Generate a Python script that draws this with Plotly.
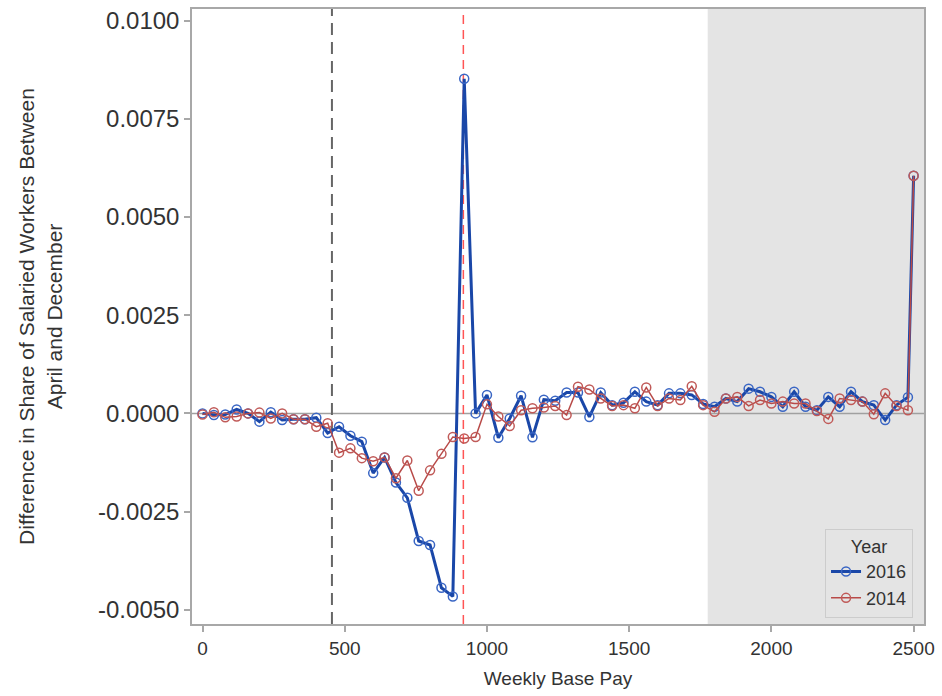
import plotly.graph_objects as go

# Weekly base pay bins ($40 steps) plus the top bin at 2500
pay = [40 * i for i in range(63)] + [2500]

share_2016 = [
    0.0, -0.00004, -0.00003, 0.0001, 0.0, -0.00021, 0.00003, -0.00017,
    -0.00015, -0.00015, -0.00011, -0.0005, -0.00034, -0.00057, -0.00072, -0.00152,
    -0.00112, -0.00176, -0.00215, -0.00325, -0.00335, -0.00444, -0.00466, 0.00852,
    0.0, 0.00047, -0.00062, -0.00013, 0.00045, -0.00061, 0.00035, 0.00032,
    0.00053, 0.00053, -0.00009, 0.00053, 0.00021, 0.00027, 0.00055, 0.0003,
    0.00021, 0.00051, 0.00051, 0.00047, 0.00024, 0.00017, 0.00038, 0.0003,
    0.00063, 0.00055, 0.00042, 0.00017, 0.00055, 0.00017, 0.00008, 0.00042,
    0.00017, 0.00055, 0.0003, 0.00021, -0.00017, 0.00021, 0.00041, 0.00605,
]

share_2014 = [
    -0.00003, 0.00003, -0.0001, -0.00008, 0.0, 0.00002, -0.00013, 0.0,
    -0.00015, -0.00015, -0.00034, -0.00025, -0.001, -0.00089, -0.00114, -0.00122,
    -0.00112, -0.00165, -0.0012, -0.00197, -0.00145, -0.00103, -0.0006, -0.00064,
    -0.0006, 0.00023, -0.00008, -0.00032, 0.00008, 0.00013, 0.00015, 0.00019,
    -0.00004, 0.00068, 0.00061, 0.00038, 0.00019, 0.00021, 0.00013, 0.00066,
    0.00019, 0.00038, 0.00034, 0.00069, 0.00021, 0.00004, 0.00038, 0.00042,
    0.00019, 0.00034, 0.00025, 0.0003, 0.00025, 0.00025, 0.00006, -0.00014,
    0.00038, 0.00034, 0.0003, -0.00002, 0.00051, 0.00019, 0.00008, 0.00605,
]

y_ticks = [-0.005, -0.0025, 0.0, 0.0025, 0.005, 0.0075, 0.01]
y_tick_text = ["-0.0050", "-0.0025", "0.0000", "0.0025", "0.0050", "0.0075", "0.0100"]
x_ticks = [0, 500, 1000, 1500, 2000, 2500]

old_threshold = 455
new_threshold = 917
shade_start = 1776

fig = go.Figure()

fig.add_trace(go.Scatter(
    x=pay, y=share_2016, name="2016", mode="lines+markers",
    line=dict(color="#1a47a8", width=3),
    marker=dict(symbol="circle-open", size=9, color="#3a66c4",
                line=dict(width=1.5)),
    legendrank=1,
))
fig.add_trace(go.Scatter(
    x=pay, y=share_2014, name="2014", mode="lines+markers",
    line=dict(color="#b84a48", width=1.5),
    marker=dict(symbol="circle-open", size=9, color="#c05a58",
                line=dict(width=1.5)),
    legendrank=2,
))

# Shaded upper range
fig.add_vrect(x0=shade_start, x1=2536.5, fillcolor="#e4e4e4", line_width=0,
              layer="below")
# Zero reference line
fig.add_hline(y=0, line=dict(color="#a0a0a0", width=1.5), layer="below")
# Salary thresholds
fig.add_vline(x=old_threshold, line=dict(color="#666666", width=2, dash="12px,7px"),
              layer="below")
fig.add_vline(x=new_threshold, line=dict(color="#ff5555", width=1.5, dash="9px,6px"),
              layer="below")

axis_common = dict(
    showgrid=False, zeroline=False, showline=True, mirror=True,
    linecolor="#a8a8a8", linewidth=1.5,
    ticks="outside", ticklen=6, tickcolor="#a8a8a8", tickwidth=1.5,
)

fig.update_xaxes(
    range=[-37, 2536.5], tickvals=x_ticks,
    title=dict(text="Weekly Base Pay", font=dict(size=19, color="#333333"),
               standoff=14),
    tickfont=dict(size=19, color="#333333"),
    **axis_common,
)
fig.update_yaxes(
    range=[-0.005362, 0.010295], tickvals=y_ticks, ticktext=y_tick_text,
    title=dict(text="Difference in Share of Salaried Workers Between<br>April and December",
               font=dict(size=21, color="#333333"), standoff=30),
    tickfont=dict(size=24, color="#333333"),
    **axis_common,
)

fig.update_layout(
    width=942, height=696,
    margin=dict(l=192, r=16, t=7, b=72),
    plot_bgcolor="white", paper_bgcolor="white",
    font=dict(family="Liberation Sans, Arial, sans-serif", color="#333333"),
    showlegend=True,
    legend=dict(
        title=dict(text="Year", side="top center", font=dict(size=18)),
        x=0.985, y=0.01, xanchor="right", yanchor="bottom",
        bgcolor="#e4e4e4", bordercolor="#cccccc", borderwidth=1,
        font=dict(size=18),
        traceorder="normal",
    ),
)

fig.write_html("out.html")
